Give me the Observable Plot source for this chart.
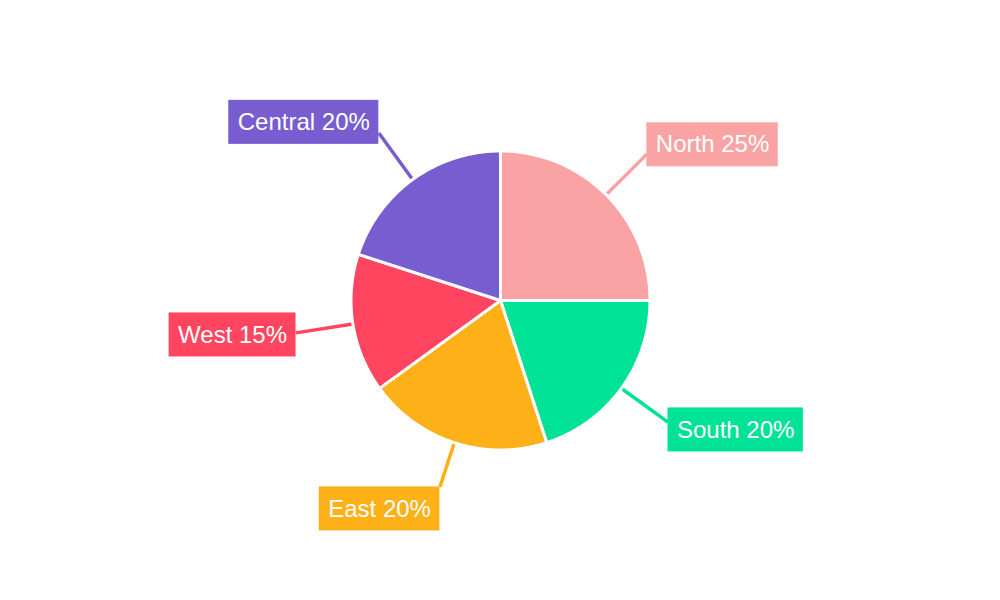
<!DOCTYPE html>
<html>
<head>
<meta charset="utf-8">
<script src="https://cdn.jsdelivr.net/npm/d3@7"></script>
<script src="https://cdn.jsdelivr.net/npm/@observablehq/plot@0.6"></script>
<style>
  html, body { margin: 0; padding: 0; background: #ffffff; }
  #chart { width: 1000px; height: 600px; }
</style>
</head>
<body>
<div id="chart"></div>
<script>
// ---- data ----
const categories = ["North", "South", "East", "West", "Central"];
const values = [25, 20, 20, 15, 20];
const colors = ["#F9A3A4", "#00E396", "#FEB019", "#FF4560", "#775DD0"];

// ---- layout constants ----
const W = 1000, H = 600;
const R = 149.5;           // pie radius (data units = px around centre)
const LEAD_H = 207;        // leader end radius for side labels
const LEAD_V = 196;        // leader end radius for top/bottom labels
const FONT = "Liberation Sans, Arial, sans-serif";
const FONT_SIZE = 24;
const PAD_X = 9, BOX_H = 44;

const total = d3.sum(values);
const ctx = document.createElement("canvas").getContext("2d");
ctx.font = `${FONT_SIZE}px "Liberation Sans", Arial, sans-serif`;

// slices (angles clockwise from 12 o'clock)
let acc = 0;
const slices = categories.map((name, i) => {
  const a0 = acc / total * 2 * Math.PI;
  acc += values[i];
  const a1 = acc / total * 2 * Math.PI;
  return {name, value: values[i], color: colors[i], a0, a1, mid: (a0 + a1) / 2,
          label: `${name} ${Math.round(values[i] / total * 100)}%`};
});

// polygon points for each slice
const poly = [];
for (const s of slices) {
  poly.push({name: s.name, color: s.color, x: 0, y: 0});
  const n = Math.max(2, Math.ceil((s.a1 - s.a0) / (Math.PI / 180)));
  for (let k = 0; k <= n; k++) {
    const a = s.a0 + (s.a1 - s.a0) * k / n;
    poly.push({name: s.name, color: s.color, x: R * Math.sin(a), y: R * Math.cos(a)});
  }
  poly.push({name: s.name, color: s.color, x: 0, y: 0});
}

// leader lines and label boxes
const labels = slices.map(s => {
  const sx = Math.sin(s.mid), cy = Math.cos(s.mid);
  const side = Math.abs(sx) >= 0.5;
  const rEnd = side ? LEAD_H : LEAD_V;
  const r0 = R - 1.5;
  const ax = rEnd * sx, ay = rEnd * cy;
  const w = ctx.measureText(s.label).width + 2 * PAD_X;
  let x1, x2, top, bottom;
  if (side) {
    if (sx > 0) { x1 = ax; x2 = ax + w; } else { x2 = ax; x1 = ax - w; }
    const f = 0.5 + 0.3 * cy;            // fraction from top where leader meets
    top = ay + f * BOX_H; bottom = top - BOX_H;
  } else {
    if (cy < 0) { top = ay; bottom = ay - BOX_H; } else { bottom = ay; top = ay + BOX_H; }
    if (sx < 0) { x2 = ax; x1 = ax - w; } else { x1 = ax; x2 = ax + w; }
  }
  return {...s, lx1: r0 * sx, ly1: r0 * cy, lx2: ax, ly2: ay,
          x1, x2, y1: bottom, y2: top, tx: x1 + PAD_X, ty: (top + bottom) / 2};
});

const chart = Plot.plot({
  width: W, height: H,
  margin: 0,
  x: {domain: [-W / 2, W / 2], axis: null},
  y: {domain: [-H / 2, H / 2], axis: null},
  color: {type: "identity"},
  style: {background: "#ffffff", fontFamily: FONT},
  marks: [
    Plot.link(labels, {x1: "lx1", y1: "ly1", x2: "lx2", y2: "ly2",
      stroke: "color", strokeWidth: 3.5}),
    Plot.line(poly, {x: "x", y: "y", z: "name", fill: "color", stroke: "#ffffff",
      strokeWidth: 3, strokeLinejoin: "round", curve: "linear"}),
    Plot.rect(labels, {x1: "x1", x2: "x2", y1: "y1", y2: "y2", fill: "color"}),
    Plot.text(labels, {x: "tx", y: "ty", text: "label", textAnchor: "start",
      fill: "#ffffff", fontSize: FONT_SIZE, fontFamily: FONT})
  ]
});
document.getElementById("chart").appendChild(chart);
</script>
</body>
</html>
